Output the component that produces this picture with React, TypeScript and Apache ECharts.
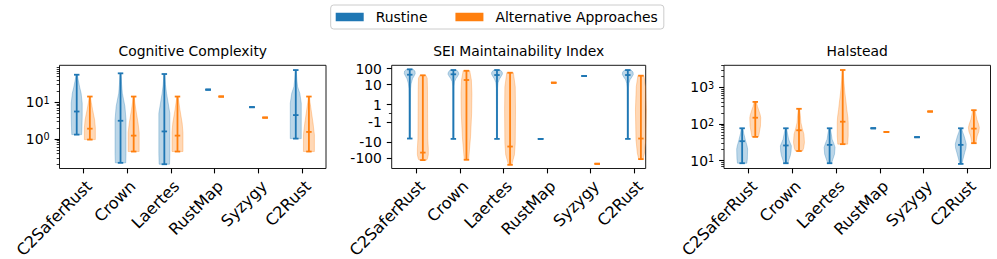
import React, { useEffect, useRef } from 'react';
import * as echarts from 'echarts';

// ---------------- data ----------------
const categories = ['C2SaferRust', 'Crown', 'Laertes', 'RustMap', 'Syzygy', 'C2Rust'];
const legendNames = ['Rustine', 'Alternative Approaches'];
const panelTitles = ['Cognitive Complexity', 'SEI Maintainability Index', 'Halstead'];

// Cognitive Complexity (log scale)
const ccRustineMin = [1.31, 0.224, 0.205, 21.9, 7.3, 1.02];
const ccRustineMedian = [5.57, 3.12, 1.6, 21.9, 7.3, 4.45];
const ccRustineMax = [55.7, 60.8, 58.2, 21.9, 7.3, 74.6];
const ccAltMin = [0.96, 0.454, 0.454, 14.2, 3.8, 0.454];
const ccAltMedian = [1.9, 1.23, 1.23, 14.2, 3.8, 1.55];
const ccAltMax = [14.2, 14.2, 14.2, 14.2, 3.8, 14.2];
// violin outlines: [value, relative half-width], from max down to min
const ccRustineShape = [
  [[55.7, 0.1], [40, 0.27], [25, 0.55], [17.5, 0.8], [9.4, 1.0], [4, 1.0], [2, 0.95], [1.31, 0.9]],
  [[60.8, 0.08], [30, 0.2], [17.5, 0.33], [7.6, 0.8], [3.3, 1.0], [1, 1.0], [0.4, 1.0], [0.224, 0.95]],
  [[58.2, 0.08], [30, 0.2], [17.5, 0.4], [9.4, 0.7], [5, 1.0], [1, 1.0], [0.4, 1.0], [0.205, 0.95]],
  null,
  null,
  [[74.6, 0.08], [40, 0.2], [26.4, 0.33], [17.5, 0.73], [9.4, 1.0], [3, 1.0], [1.02, 1.0]],
];
const ccAltShape = [
  [[14.2, 0.1], [10, 0.25], [6.2, 0.5], [3.3, 0.87], [2, 1.0], [0.96, 1.0]],
  [[14.2, 0.1], [10, 0.2], [6.2, 0.4], [2.7, 0.8], [1.5, 1.0], [0.454, 1.0]],
  [[14.2, 0.1], [10, 0.25], [6.2, 0.45], [2.7, 0.85], [1.5, 1.0], [0.454, 1.0]],
  null,
  null,
  [[14.2, 0.1], [10, 0.2], [6.2, 0.4], [2.7, 0.75], [1.3, 1.0], [0.454, 1.0]],
];

// SEI Maintainability Index (symlog scale)
const miRustineMin = [-5.8, -6.1, -6.1, -6.1, 34.3, -6.1];
const miRustineMedian = [41.2, 43.7, 39.4, -6.1, 34.3, 39.4];
const miRustineMax = [89.6, 81, 81, -6.1, 34.3, 81];
const miAltMin = [-130, -124, -257, 13, -221, -113];
const miAltMedian = [-44, 19.2, -18.4, 13, -221, -5.8];
const miAltMax = [37.8, 73, 55, 13, -221, 35.9];
const miRustineShape = [
  [[89.6, 0.6], [70, 0.95], [48, 1.0], [35, 0.8], [23, 0.5], [11.3, 0.25], [5.5, 0.15], [0, 0.12], [-5.8, 0.12]],
  [[81, 0.6], [60, 0.9], [45, 1.0], [30, 0.7], [24.6, 0.5], [15, 0.2], [8, 0.12], [0, 0.1], [-6.1, 0.1]],
  [[81, 0.6], [60, 0.95], [45, 1.0], [30, 0.7], [22, 0.45], [13, 0.2], [6, 0.12], [0, 0.1], [-6.1, 0.1]],
  null,
  null,
  [[81, 0.6], [60, 0.95], [42, 1.0], [28, 0.7], [20, 0.4], [12, 0.2], [6, 0.12], [0, 0.1], [-6.1, 0.1]],
];
const miAltShape = [
  [[37.8, 0.55], [25, 0.8], [5, 0.85], [0, 0.87], [-6, 0.9], [-25, 1.0], [-60, 1.0], [-104, 0.85], [-130, 0.7]],
  [[73, 0.6], [19.2, 0.9], [2.8, 1.0], [0, 0.95], [-4.4, 0.75], [-29.5, 0.55], [-124, 0.4]],
  [[55, 0.6], [7.3, 0.95], [0.4, 1.0], [-11.3, 0.95], [-60, 0.8], [-124, 0.55], [-257, 0.3]],
  null,
  null,
  [[35.9, 0.55], [7.3, 0.85], [0.4, 1.0], [-6.9, 0.9], [-47.9, 0.65], [-113, 0.4]],
];

// Halstead (log scale)
const hsRustineMin = [8.5, 8.5, 8.5, 76.6, 43.7, 8.15];
const hsRustineMedian = [34, 26, 27, 76.6, 43.7, 27];
const hsRustineMax = [76.6, 76.6, 76.6, 76.6, 43.7, 76.6];
const hsAltMin = [44.6, 18.3, 28.2, 60.8, 220, 30];
const hsAltMedian = [149, 67.6, 116, 60.8, 220, 75];
const hsAltMax = [403, 261, 3000, 60.8, 220, 239];
const hsRustineShape = [
  [[76.6, 0.15], [55, 0.3], [38.6, 0.55], [25, 0.9], [20.7, 1.0], [11.1, 0.95], [8.5, 0.85]],
  [[76.6, 0.12], [55, 0.3], [38.6, 0.5], [30, 0.8], [25.4, 1.0], [18, 0.95], [13.6, 0.8], [10, 0.5], [8.5, 0.35]],
  [[76.6, 0.12], [55, 0.3], [38.6, 0.45], [30, 0.75], [23, 1.0], [15, 0.9], [11, 0.6], [8.5, 0.35]],
  null,
  null,
  [[76.6, 0.15], [60, 0.35], [47.4, 0.6], [35, 0.85], [28.3, 1.0], [22, 0.95], [16.9, 0.73], [11, 0.4], [8.15, 0.2]],
];
const hsAltShape = [
  [[403, 0.2], [300, 0.4], [249, 0.6], [180, 0.9], [149, 1.0], [88, 0.95], [60, 0.75], [44.6, 0.6]],
  [[261, 0.12], [170, 0.25], [109, 0.35], [75, 0.6], [52.7, 0.9], [31.4, 1.0], [22, 0.85], [18.3, 0.65]],
  [[3000, 0.08], [1500, 0.2], [708, 0.4], [400, 0.6], [249, 0.75], [150, 0.95], [109, 1.0], [47, 1.0], [28.2, 0.9]],
  null,
  null,
  [[239, 0.2], [170, 0.4], [134, 0.55], [100, 0.85], [80, 1.0], [62, 0.9], [47.4, 0.6], [30, 0.35]],
];

// tick labels
const ccMajorTicks = [1, 10];
const hsMajorTicks = [10, 100, 1000];
const miTicks = [-100, -10, -1, 1, 10, 100];
const miMinorTicks = [0];

// ---------------- styling / layout ----------------
const FONT = 'DejaVu Sans';
const FS = 13.9;
const XFS = 16;
const colors = ['#1f77b4', '#ff7f0e'];
const fills = ['rgba(31,119,180,0.3)', 'rgba(255,127,14,0.3)'];
const GRID_TOP = 65.3;
const GRID_H = 103.2;
const OFFSET = 0.15;
const VIOLIN_HALF = 0.125;
const CAP_HALF = 0.0625;

const SYM_LT = 2;
const SYM_LS = 1 / (1 - 1 / 10);
const symlog = (v: number) => {
  const a = Math.abs(v);
  return a <= SYM_LT ? v * SYM_LS : Math.sign(v) * SYM_LT * (SYM_LS + Math.log10(a / SYM_LT));
};
const ident = (v: number) => v;

function logMinors(lo: number, hi: number) {
  const out: number[] = [];
  for (let d = -2; d <= 4; d++) {
    for (let m = 2; m <= 9; m++) {
      const v = m * Math.pow(10, d);
      if (v >= lo && v <= hi) out.push(v);
    }
  }
  return out;
}

const panels = [
  {
    title: panelTitles[0], kind: 'log', left: 59.5, width: 266.5, xMin: 0.457, xMax: 6.54,
    yMin: 0.157, yMax: 100.5, majors: ccMajorTicks,
    groups: [
      [ccRustineMin, ccRustineMedian, ccRustineMax, ccRustineShape],
      [ccAltMin, ccAltMedian, ccAltMax, ccAltShape],
    ],
  },
  {
    title: panelTitles[1], kind: 'symlog', left: 391.7, width: 254, xMin: 0.436, xMax: 6.26,
    yMin: -6.9, yMax: 6.03, majors: miTicks,
    groups: [
      [miRustineMin, miRustineMedian, miRustineMax, miRustineShape],
      [miAltMin, miAltMedian, miAltMax, miAltShape],
    ],
  },
  {
    title: panelTitles[2], kind: 'log', left: 724, width: 266.5, xMin: 0.435, xMax: 6.53,
    yMin: 6.1, yMax: 4030, majors: hsMajorTicks,
    groups: [
      [hsRustineMin, hsRustineMedian, hsRustineMax, hsRustineShape],
      [hsAltMin, hsAltMedian, hsAltMax, hsAltShape],
    ],
  },
];

function makeRenderItem(mins: number[], meds: number[], maxs: number[], shapes: any[], tf: (v: number) => number, g: number) {
  return (params: any, api: any) => {
    const i = params.dataIndex;
    const x = api.value(0);
    const halfW = api.size([VIOLIN_HALF, 0])[0];
    const capHalf = api.size([CAP_HALF, 0])[0];
    const cx = api.coord([x, tf(meds[i])])[0];
    const y = (v: number) => api.coord([x, tf(v)])[1];
    const children: any[] = [];
    const shape = shapes[i];
    if (shape) {
      const right = shape.map((p: number[]) => [cx + p[1] * halfW, y(p[0])]);
      const left = shape.slice().reverse().map((p: number[]) => [cx - p[1] * halfW, y(p[0])]);
      children.push({
        type: 'polygon',
        shape: { points: right.concat(left) },
        style: { fill: fills[g], stroke: fills[g], lineWidth: 1 },
      });
    }
    const yMin = y(mins[i]);
    const yMax = y(maxs[i]);
    const yMed = y(meds[i]);
    const ls = { stroke: colors[g], lineWidth: 1.8 };
    children.push({ type: 'line', shape: { x1: cx, y1: yMin, x2: cx, y2: yMax }, style: ls });
    [yMin, yMax, yMed].forEach((yy) => {
      children.push({ type: 'line', shape: { x1: cx - capHalf, y1: yy, x2: cx + capHalf, y2: yy }, style: ls });
    });
    return { type: 'group', children };
  };
}

function buildOption() {
  const grid: any[] = [];
  const xAxis: any[] = [];
  const yAxis: any[] = [];
  const series: any[] = [];
  const title: any[] = [];
  const catTicks = categories.map((_, i) => i + 1);

  panels.forEach((p, k) => {
    grid.push({
      left: p.left, top: GRID_TOP, width: p.width, height: GRID_H,
      show: true, borderColor: '#1a1a1a', borderWidth: 1, backgroundColor: 'transparent',
      containLabel: false, outerBoundsMode: 'none',
    });
    title.push({
      text: p.title, left: p.left + p.width / 2, top: 44, textAlign: 'center', padding: 0,
      textStyle: { fontFamily: FONT, fontSize: FS, fontWeight: 'normal', color: '#000' },
    });
    xAxis.push({
      gridIndex: k, type: 'value', min: p.xMin, max: p.xMax, position: 'bottom',
      axisLine: { show: false, onZero: false }, splitLine: { show: false },
      axisTick: { show: true, customValues: catTicks, length: 4.9, lineStyle: { color: '#000', width: 1.1 } },
      axisLabel: {
        customValues: catTicks,
        formatter: (v: number) => categories[Math.round(v) - 1] || '',
        rotate: 45, align: 'right', verticalAlign: 'top', margin: 9.3,
        fontFamily: FONT, fontSize: XFS, color: '#000', overflow: 'none', hideOverlap: false,
      },
    });
    const isLog = p.kind === 'log';
    const tf = isLog ? ident : symlog;
    const majorVals = isLog ? p.majors : p.majors.map(symlog);
    const minorVals = isLog ? logMinors(p.yMin, p.yMax) : miMinorTicks.map(symlog);
    const base = {
      gridIndex: k, type: isLog ? 'log' : 'value', logBase: 10, min: p.yMin, max: p.yMax,
      position: 'left', axisLine: { show: false, onZero: false }, splitLine: { show: false },
    };
    yAxis.push({
      ...base,
      axisTick: { show: true, customValues: majorVals, length: 4.9, lineStyle: { color: '#000', width: 1.1 } },
      axisLabel: {
        customValues: majorVals, margin: 9.8, fontFamily: FONT, fontSize: FS, color: '#000',
        formatter: isLog
          ? (v: number) => '{m|10}{e|' + Math.round(Math.log10(v)) + '}'
          : (v: number) => {
              let best = p.majors[0];
              p.majors.forEach((t) => { if (Math.abs(symlog(t) - v) < Math.abs(symlog(best) - v)) best = t; });
              return String(best);
            },
        rich: {
          m: { fontFamily: FONT, fontSize: FS, color: '#000' },
          e: { fontFamily: FONT, fontSize: 9.7, color: '#000', verticalAlign: 'top' },
        },
      },
    });
    yAxis.push({
      ...base,
      axisLabel: { show: false },
      axisTick: { show: true, customValues: minorVals, length: 2.8, lineStyle: { color: '#000', width: 0.8 } },
    });
    p.groups.forEach((gr: any, g: number) => {
      const [mins, meds, maxs, shapes] = gr;
      series.push({
        type: 'custom', name: legendNames[g], xAxisIndex: k, yAxisIndex: 2 * k,
        itemStyle: { color: colors[g] },
        encode: { x: 0, y: 1 },
        data: categories.map((_, i) => [i + 1 + (g === 0 ? -OFFSET : OFFSET), tf(meds[i])]),
        renderItem: makeRenderItem(mins, meds, maxs, shapes, tf, g),
        clip: false,
      });
    });
  });

  return {
    animation: false,
    backgroundColor: '#ffffff',
    title,
    legend: {
      left: 330.7, top: 5, orient: 'horizontal',
      data: legendNames.map((n, g) => ({ name: n, icon: 'rect', itemStyle: { color: colors[g] } })),
      itemWidth: 28, itemHeight: 8.5, itemGap: 28,
      padding: [4, 6, 4, 5],
      borderColor: '#cccccc', borderWidth: 1, borderRadius: 3, backgroundColor: '#ffffff',
      textStyle: { fontFamily: FONT, fontSize: FS, color: '#000', padding: [0, 0, 0, 7], lineHeight: 16 },
      selectedMode: false,
    },
    grid, xAxis, yAxis, series,
  };
}

export default function App() {
  const ref = useRef<HTMLDivElement>(null);
  useEffect(() => {
    if (!ref.current) return;
    const chart = echarts.init(ref.current, undefined, { renderer: 'svg' });
    chart.setOption(buildOption() as any);
    return () => chart.dispose();
  }, []);
  return (
    <div
      ref={ref}
      style={{ position: 'fixed', left: 0, top: 0, width: 997, height: 259, background: '#fff' }}
    />
  );
}
